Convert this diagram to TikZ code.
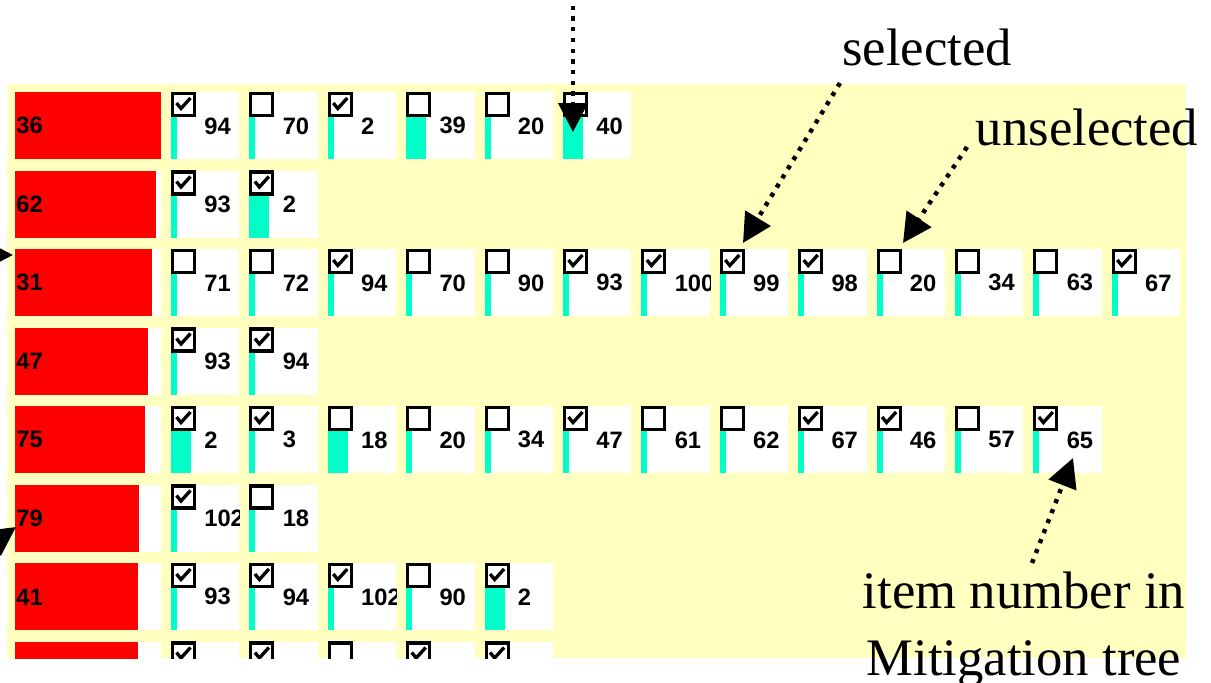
\documentclass[tikz,border=0pt]{standalone}
\usepackage{fontspec}
\setmainfont{Liberation Serif}
\newfontfamily\cellfont{Liberation Sans}
\usetikzlibrary{arrows.meta}

\definecolor{panel}{RGB}{255,255,192}
\definecolor{level}{RGB}{0,255,200}
\definecolor{hazard}{RGB}{255,0,0}

% one mitigation item: name, number, checked (0/1), bar width, position
\newcommand{\itemcell}[5]{%
  \node[cell] (#1) at #5 {};
  \fill[level] (#1.north west) ++(0,25) rectangle ++(#4,42);
  \draw[chkbox] (#1.north west) ++(1.5,1.5) rectangle ++(22,22);
  \ifnum#3=1 \draw[tick] (#1.north west) ++(5.5,11) -- ++(4.5,5.5) -- ++(9.5,-10.5);\fi
  \begin{scope}
    \clip (#1.north west) rectangle (#1.south east);
    \path (#1.west) ++(33,0) node[num] {#2};
  \end{scope}%
}

\begin{document}
\begin{tikzpicture}[
  x=0.02cm, y=-0.02cm,
  cell/.style={fill=white, inner sep=0, anchor=north west,
               minimum width=1.36cm, minimum height=1.34cm},
  hazcell/.style={cell, minimum width=2.92cm},
  chkbox/.style={draw=black, line width=1.8pt},
  tick/.style={line width=1.9pt},
  num/.style={inner sep=0, anchor=west,
              font=\cellfont\bfseries\fontsize{13.5}{15}\selectfont},
  note/.style={inner sep=0, font=\fontsize{30}{38}\selectfont},
  pointer/.style={line width=2.55pt, dash pattern=on 2.4pt off 3.7pt,
                  -{Triangle[length=16.5pt,width=16.5pt]}},
]
\useasboundingbox (0,0) rectangle (1211,683);
\clip (0,0) rectangle (1211,683);

% panel with hazard rows
\begin{scope}
\clip (7,84) rectangle (1186,658);
\fill[panel] (7,84) rectangle (1186,658);
\foreach \lab/\redw/\items [count=\r] in {
  36/146/{94/1/6,70/0/6,2/1/6,39/0/20,20/0/6,40/0/20},
  62/141/{93/1/6,2/1/20},
  31/137/{71/0/6,72/0/6,94/1/6,70/0/6,90/0/6,93/1/6,100/1/6,99/1/6,98/1/6,20/0/6,34/0/6,63/0/6,67/1/6},
  47/133/{93/1/6,94/1/6},
  75/130/{2/1/20,3/1/6,18/0/20,20/0/6,34/0/6,47/1/6,61/0/6,62/0/6,67/1/6,46/1/6,57/0/6,65/1/6},
  79/124/{102/1/6,18/0/6},
  41/123/{93/1/6,94/1/6,102/1/6,90/0/6,2/1/20},
  {}/123/{{}/1/6,{}/1/6,{}/0/6,{}/1/6,{}/1/6}}{
  \node[hazcell] (h\r) at (15,{92+78.5*(\r-1)}) {};
  \fill[hazard] (h\r.north west) rectangle ++(\redw,67);
  \path (h\r.west) ++(1,0) node[num] {\lab};
  \foreach \n/\k/\w [count=\c] in \items {
    \itemcell{r\r-\c}{\n}{\k}{\w}{({171+78.4*(\c-1)},{92+78.5*(\r-1)})}
  }
}
\end{scope}

% annotations
\node[note, anchor=base] (sel) at (927,65) {selected};
\node[note, anchor=base] (unsel) at (1087,145) {unselected};
\node[note, anchor=north, align=center] (itemno) at (1024,572)
  {item number in\\Mitigation tree};

\coordinate (topT) at (573,-5);
\coordinate (topH) at (573,132);
\coordinate (selT) at (840,83);
\coordinate (selH) at (743,243);
\coordinate (unselT) at (967,147);
\coordinate (unselH) at (903,243);
\coordinate (itemT) at (1032,563);
\coordinate (itemH) at (1073,458);
\coordinate (leftT) at (-60,255);
\coordinate (leftH) at (13,255);
\coordinate (lowT) at (-66,584);
\coordinate (lowH) at (16,527);

\draw[pointer] (topT) -- (topH);
\draw[pointer] (selT) -- (selH);
\draw[pointer] (unselT) -- (unselH);
\draw[pointer] (itemT) -- (itemH);
\draw[pointer] (leftT) -- (leftH);
\draw[pointer] (lowT) -- (lowH);
\end{tikzpicture}
\end{document}
